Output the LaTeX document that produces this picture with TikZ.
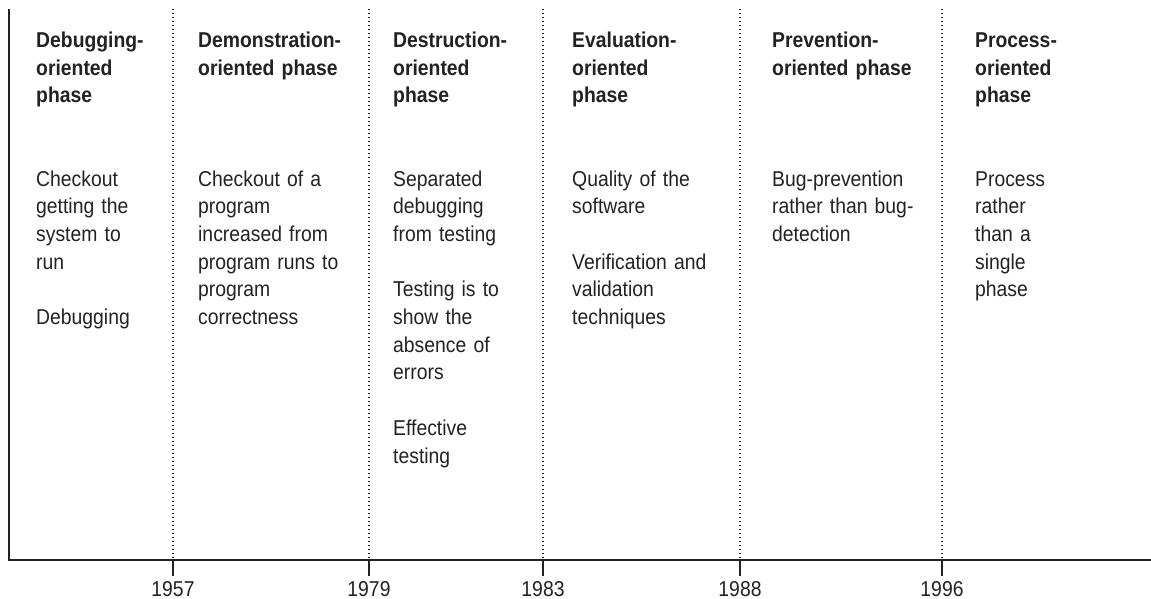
\documentclass[tikz,border=0pt]{standalone}
\usepackage{fontspec}
\setmainfont{Liberation Sans}[FakeStretch=0.9]
\definecolor{ink}{HTML}{222222}
\begin{document}
\begin{tikzpicture}[x=1pt,y=-1pt,
  axisline/.style={draw=ink,line width=1.4pt},
  divider/.style={draw=ink,line width=1.1pt,dash pattern=on 1.1pt off 2.9pt},
  ticklab/.style={anchor=base,inner sep=0pt,text=ink,font=\fontsize{21.5}{27.5}\selectfont},
  title/.style={anchor=base west,inner sep=0pt,text=ink,text width=200pt,align=left,
    font=\fontsize{21.5}{27.2}\selectfont\bfseries},
  body/.style={anchor=base west,inner sep=0pt,text=ink,text width=200pt,align=left,
    font=\fontsize{21.5}{27.7}\selectfont}]
\useasboundingbox (0,0) rectangle (1151,599);
% axes
\coordinate (top) at (9,9);
\coordinate (origin) at (9,560);
\coordinate (axend) at (1151,560);
\draw[axisline] (top) -- (origin) -- (axend);
% dividers, ticks and years
\foreach \name/\xx/\yr in {a/173/1957,b/369/1979,c/543/1983,d/740/1988,e/942/1996}{
  \coordinate (\name top) at (\xx,9);
  \coordinate (\name axis) at (\xx,560);
  \coordinate (\name tick) at (\xx,576);
  \draw[divider] (\name top) -- (\name axis);
  \draw[axisline] (\name axis) -- (\name tick);
  \node[ticklab] (\name year) at (\xx,596) {\yr};
}
% titles
\node[title] (t1) at (36,48) {Debugging-\\oriented\\phase};
\node[title] (t2) at (198,48) {Demonstration-\\oriented phase};
\node[title] (t3) at (393,48) {Destruction-\\oriented\\phase};
\node[title] (t4) at (572,48) {Evaluation-\\oriented\\phase};
\node[title] (t5) at (772,48) {Prevention-\\oriented phase};
\node[title] (t6) at (975,48) {Process-\\oriented\\phase};
% bodies
\node[body] (b1) at (36,186) {Checkout\\getting the\\system to\\run\\[27.7pt]Debugging};
\node[body] (b2) at (198,186) {Checkout of a\\program\\increased from\\program runs to\\program\\correctness};
\node[body] (b3) at (393,186) {Separated\\debugging\\from testing\\[27.7pt]Testing is to\\show the\\absence of\\errors\\[27.7pt]Effective\\testing};
\node[body] (b4) at (572,186) {Quality of the\\software\\[27.7pt]Verification and\\validation\\techniques};
\node[body] (b5) at (772,186) {Bug-prevention\\rather than bug-\\detection};
\node[body] (b6) at (975,186) {Process\\rather\\than a\\single\\phase};
\end{tikzpicture}
\end{document}
